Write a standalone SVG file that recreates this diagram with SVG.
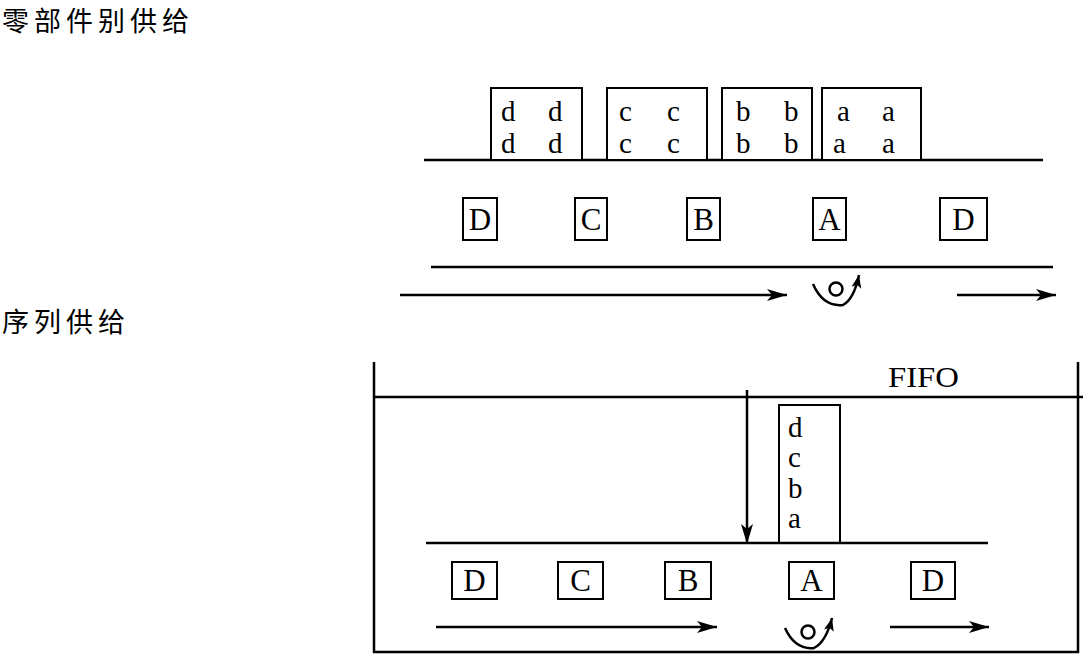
<svg xmlns="http://www.w3.org/2000/svg" width="1083" height="655" viewBox="0 0 1083 655">
<style>
.ln{stroke:#000;stroke-width:2.5;fill:none}
.bx{stroke:#000;stroke-width:2;fill:#fff}
.t{font-family:"Liberation Serif","Times New Roman",serif;fill:#000}
.lt{font-size:29px}
.bt{font-size:31px;text-anchor:middle}
.cn{font-family:"Noto Sans CJK SC","Noto Sans",sans-serif;font-size:27px;letter-spacing:5px;fill:#000}
</style>
<defs>
<marker id="ah" markerUnits="userSpaceOnUse" markerWidth="22" markerHeight="14" refX="20" refY="6" orient="auto">
<path d="M0,0 L20,6 L0,12 L5,6 z" fill="#000"/>
</marker>
<marker id="ahs" markerUnits="userSpaceOnUse" markerWidth="16" markerHeight="12" refX="13" refY="5" orient="auto">
<path d="M0,0 L13,5 L0,10 L3,5 z" fill="#000"/>
</marker>
</defs>

<text class="cn" x="2" y="31">零部件别供给</text>
<text class="cn" x="2" y="332">序列供给</text>

<g id="top-section">
<line class="ln" x1="424" y1="160" x2="1043" y2="160"/>
<g id="box-dd"><rect class="bx" x="491" y="88" width="91" height="72"/>
<text class="t lt" x="501" y="121">d</text><text class="t lt" x="548" y="121">d</text>
<text class="t lt" x="501" y="153">d</text><text class="t lt" x="548" y="153">d</text></g>
<g id="box-cc"><rect class="bx" x="607" y="88" width="100" height="72"/>
<text class="t lt" x="619" y="121">c</text><text class="t lt" x="667" y="121">c</text>
<text class="t lt" x="619" y="153">c</text><text class="t lt" x="667" y="153">c</text></g>
<g id="box-bb"><rect class="bx" x="722" y="88" width="90" height="72"/>
<text class="t lt" x="736" y="121">b</text><text class="t lt" x="784" y="121">b</text>
<text class="t lt" x="736" y="153">b</text><text class="t lt" x="784" y="153">b</text></g>
<g id="box-aa"><rect class="bx" x="822" y="88" width="99" height="72"/>
<text class="t lt" x="837" y="121">a</text><text class="t lt" x="882" y="121">a</text>
<text class="t lt" x="833" y="153">a</text><text class="t lt" x="882" y="153">a</text></g>

<g id="top-D1"><rect class="bx" x="463" y="198" width="34" height="42"/><text class="t bt" x="480" y="230">D</text></g>
<g id="top-C"><rect class="bx" x="575" y="198" width="32" height="42"/><text class="t bt" x="591" y="230">C</text></g>
<g id="top-B"><rect class="bx" x="687" y="198" width="33" height="42"/><text class="t bt" x="703.5" y="230">B</text></g>
<g id="top-A"><rect class="bx" x="813" y="198" width="33" height="42"/><text class="t bt" x="829.5" y="230">A</text></g>
<g id="top-D2"><rect class="bx" x="940" y="198" width="47" height="42"/><text class="t bt" x="963.5" y="230">D</text></g>

<line class="ln" x1="431" y1="267" x2="1053" y2="267"/>
</g>

<g id="bottom-section">
<path class="ln" d="M374,362 V652 H1078 V362"/>
<line class="ln" x1="374" y1="397" x2="1083" y2="397"/>
<text class="t" x="888" y="387" font-size="30" textLength="71" lengthAdjust="spacingAndGlyphs">FIFO</text>
<g id="box-dcba"><rect class="bx" x="779" y="405" width="61" height="138"/>
<text class="t lt" x="788" y="437">d</text>
<text class="t lt" x="788" y="467">c</text>
<text class="t lt" x="788" y="498">b</text>
<text class="t lt" x="788" y="528">a</text></g>
<line class="ln" x1="426" y1="543" x2="988" y2="543"/>
<g id="bot-D1"><rect class="bx" x="452" y="562" width="45" height="37"/><text class="t bt" x="474.5" y="591">D</text></g>
<g id="bot-C"><rect class="bx" x="558" y="562" width="45" height="37"/><text class="t bt" x="580.5" y="591">C</text></g>
<g id="bot-B"><rect class="bx" x="665" y="562" width="46" height="37"/><text class="t bt" x="688" y="591">B</text></g>
<g id="bot-A"><rect class="bx" x="789" y="562" width="45" height="37"/><text class="t bt" x="811.5" y="591">A</text></g>
<g id="bot-D2"><rect class="bx" x="911" y="562" width="44" height="37"/><text class="t bt" x="933" y="591">D</text></g>
</g>

<g id="connectors">
<line class="ln" x1="400" y1="295" x2="787" y2="295" marker-end="url(#ah)"/>
<line class="ln" x1="957" y1="295" x2="1056" y2="295" marker-end="url(#ah)"/>
<circle cx="836" cy="289" r="6.5" class="ln" stroke-width="2.5"/>
<path class="ln" stroke-width="3" d="M813,284 Q823,307 843,305 Q854,299 859,275" marker-end="url(#ahs)"/>

<line class="ln" x1="747" y1="390" x2="747" y2="544" marker-end="url(#ah)"/>
<line class="ln" x1="436" y1="627" x2="717" y2="627" marker-end="url(#ah)"/>
<line class="ln" x1="890" y1="627" x2="989" y2="627" marker-end="url(#ah)"/>
<circle cx="808" cy="632" r="6.5" class="ln" stroke-width="2.5"/>
<path class="ln" stroke-width="3" d="M785,628 Q795,650 814,648 Q826,642 832,618" marker-end="url(#ahs)"/>
</g>
</svg>
